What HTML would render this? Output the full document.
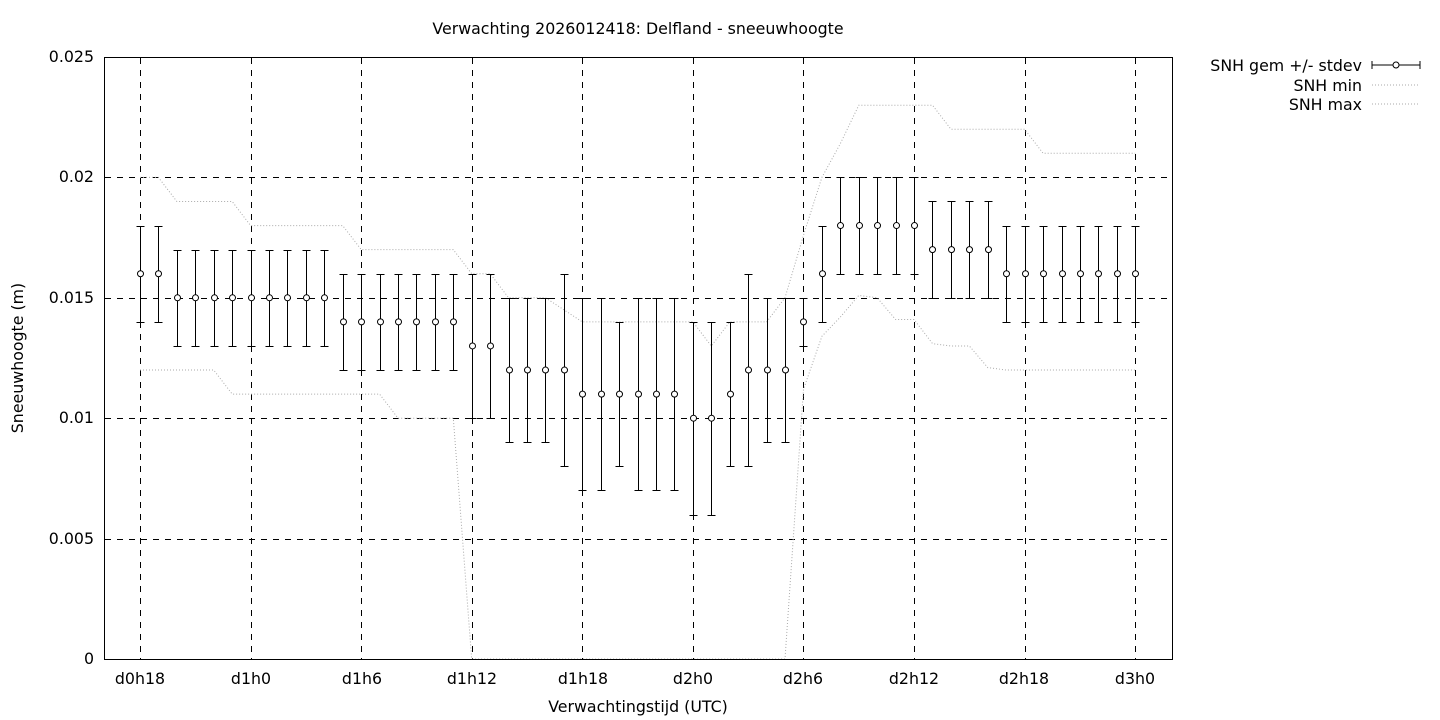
<!DOCTYPE html>
<html><head><meta charset="utf-8"><style>
html,body{margin:0;padding:0;background:#fff;}
svg{display:block;font-family:"DejaVu Sans","Liberation Sans",sans-serif;}
</style></head><body>
<svg id="s" width="1440" height="720" xmlns="http://www.w3.org/2000/svg">
<rect width="1440" height="720" fill="#fff"/>
<g id="grid" stroke="#000" stroke-width="1" stroke-dasharray="6,6"></g>
<g id="series"></g>
<rect x="104.5" y="57.5" width="1068" height="602" fill="none" stroke="#000" stroke-width="1"/>
<g font-size="15.8" fill="#000" text-anchor="end">
<text x="94" y="62">0.025</text>
<text x="94" y="182">0.02</text>
<text x="94" y="303">0.015</text>
<text x="94" y="423">0.01</text>
<text x="94" y="544">0.005</text>
<text x="94" y="664">0</text>
</g>
<g font-size="15.8" fill="#000" text-anchor="middle">
<text x="140" y="684">d0h18</text>
<text x="251" y="684">d1h0</text>
<text x="362" y="684">d1h6</text>
<text x="472" y="684">d1h12</text>
<text x="583" y="684">d1h18</text>
<text x="693" y="684">d2h0</text>
<text x="803" y="684">d2h6</text>
<text x="914" y="684">d2h12</text>
<text x="1024" y="684">d2h18</text>
<text x="1135" y="684">d3h0</text>
<text x="638" y="712">Verwachtingstijd (UTC)</text>
<text x="638" y="34">Verwachting 2026012418: Delfland - sneeuwhoogte</text>
<text transform="translate(23,358) rotate(-90)">Sneeuwhoogte (m)</text>
</g>
<g font-size="15.8" fill="#000" text-anchor="end">
<text x="1362" y="71">SNH gem +/- stdev</text>
<text x="1362" y="91">SNH min</text>
<text x="1362" y="110">SNH max</text>
</g>
<g stroke="#000" stroke-width="1">
<line x1="1372" y1="65" x2="1420" y2="65"/><line x1="1372" y1="61" x2="1372" y2="69"/><line x1="1420" y1="61" x2="1420" y2="69"/>
<circle cx="1396" cy="65" r="3" fill="#fff"/>
</g>
<g stroke="#aaa" stroke-width="1" stroke-dasharray="1,2">
<line x1="1372" y1="85" x2="1420" y2="85"/><line x1="1372" y1="104" x2="1420" y2="104"/>
</g>
</svg>
<script>
var NS="http://www.w3.org/2000/svg";
function X(h){return 140+h*18.43;}
function Y(v){return 659-v*24.08;}
function el(p,n,a){var e=document.createElementNS(NS,n);for(var k in a)e.setAttribute(k,a[k]);p.appendChild(e);return e;}
var g=document.getElementById('grid');
[0,6,12,18,24,30,36,42,48,54].forEach(function(h){var x=Math.round(X(h))+0.5;el(g,'line',{x1:x,y1:58,x2:x,y2:659});});
[5,10,15,20].forEach(function(v){var y=Math.round(Y(v))+0.5;el(g,'line',{x1:105,y1:y,x2:1172,y2:y});});
var s=document.getElementById('series');
var maxv=[20,20,19,19,19,19,18,18,18,18,18,18,17,17,17,17,17,17,16,16,15,15,15,14.5,14,14,14,14,14,14,14,13,14,14,14,15,17.6,20,21.4,23,23,23,23,23,22,22,22,22,22,21,21,21,21,21,21];
var minv=[12,12,12,12,12,11,11,11,11,11,11,11,11,11,10,10,10,10,0,0,0,0,0,0,0,0,0,0,0,0,0,0,0,0,0,0,11.2,13.4,14.2,15.1,15,14.1,14.1,13.1,13,13,12.1,12,12,12,12,12,12,12,12];
function pl(arr,n){var p=[];for(var i=0;i<n;i++)p.push(X(i).toFixed(1)+','+Y(arr[i]).toFixed(1));el(s,'polyline',{points:p.join(' '),fill:'none',stroke:'#aaa','stroke-width':1,'stroke-dasharray':'1,2'});}
pl(maxv,55);pl(minv,55);
var m=[16,16,15,15,15,15,15,15,15,15,15,14,14,14,14,14,14,14,13,13,12,12,12,12,11,11,11,11,11,11,10,10,11,12,12,12,14,16,18,18,18,18,18,17,17,17,17,16,16,16,16,16,16,16,16];
var lo=[14,14,13,13,13,13,13,13,13,13,13,12,12,12,12,12,12,12,10,10,9,9,9,8,7,7,8,7,7,7,6,6,8,8,9,9,13,14,16,16,16,16,16,15,15,15,15,14,14,14,14,14,14,14,14];
var hi=[18,18,17,17,17,17,17,17,17,17,17,16,16,16,16,16,16,16,16,16,15,15,15,16,15,15,14,15,15,15,14,14,14,16,15,15,15,18,20,20,20,20,20,19,19,19,19,18,18,18,18,18,18,18,18];
for(var i=0;i<55;i++){var x=Math.round(X(i))+0.5,yl=Math.round(Y(lo[i]))+0.5,yh=Math.round(Y(hi[i]))+0.5;
el(s,'line',{x1:x,y1:yl,x2:x,y2:yh,stroke:'#000'});
el(s,'line',{x1:x-4,y1:yl,x2:x+4,y2:yl,stroke:'#000'});
el(s,'line',{x1:x-4,y1:yh,x2:x+4,y2:yh,stroke:'#000'});
el(s,'circle',{cx:x,cy:Y(m[i]),r:3,fill:'#fff',stroke:'#000'});}
</script>
</body></html>
